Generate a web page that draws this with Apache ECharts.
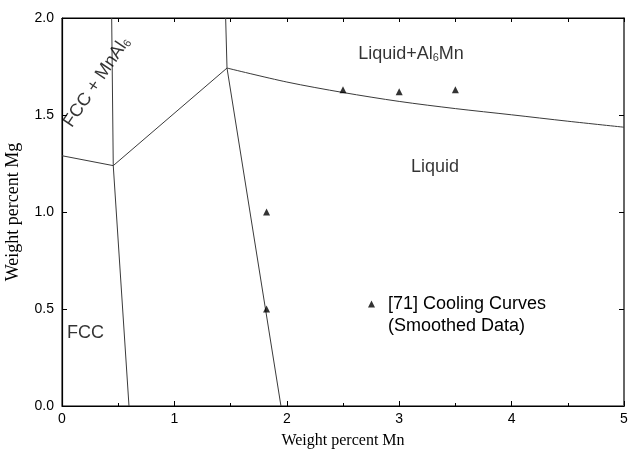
<!DOCTYPE html>
<html>
<head>
<meta charset="utf-8">
<script src="https://cdn.jsdelivr.net/npm/echarts@6/dist/echarts.min.js"></script>
<style>html,body{margin:0;padding:0;background:#fff;}#c{width:630px;height:449px;}</style>
</head>
<body>
<div id="c"></div>
<script>
// Axis ranges / ticks
const xTicks = [0, 1, 2, 3, 4, 5];
const yTicks = [0.0, 0.5, 1.0, 1.5, 2.0];

// Phase boundary lines (Mn wt%, Mg wt%)
const fccLiquidusLeft = [[0, 1.29], [0.456, 1.239]];
const fccMnAl6Boundary = [[0.456, 1.239], [0.442, 2.0]];
const fccLower = [[0.456, 1.239], [0.596, 0.0]];
const valleyToPeak = [[0.456, 1.239], [1.468, 1.742]];
const peakUp = [[1.468, 1.742], [1.456, 2.0]];
const peakDown = [[1.468, 1.742], [1.948, 0.0]];
const al6mnLiquidus = [[1.468, 1.742], [2.0, 1.670], [2.5, 1.616], [3.0, 1.570], [3.5, 1.533], [4.0, 1.501], [4.5, 1.468], [5.0, 1.437]];

// [71] cooling curves (smoothed data)
const coolingMn = [2.5, 3.0, 3.5, 1.82, 1.82];
const coolingMg = [1.63, 1.62, 1.63, 1.0, 0.5];

// Region labels (anchor in data coordinates)
const regionLabels = [
  { text: 'Liquid+Al{s|6}Mn', at: [3.105, 1.814], rotate: 0 },
  { text: 'Liquid', at: [3.318, 1.232], rotate: 0 },
  { text: 'FCC', at: [0.209, 0.376], rotate: 0 },
  { text: 'FCC + MnAl{s|6}', at: [0.31, 1.67], rotate: 56 }
];

const SANS = "'Liberation Sans', Arial, sans-serif";
const SERIF = "'Liberation Serif', 'Times New Roman', serif";

const lineStyle = { color: '#3a3a3a', width: 1 };
function boundary(data) {
  return { type: 'line', data: data, symbol: 'none', lineStyle: lineStyle, silent: true, animation: false, z: 2 };
}

const chart = echarts.init(document.getElementById('c'), null, { renderer: 'canvas' });
chart.setOption({
  backgroundColor: '#ffffff',
  animation: false,
  grid: { left: 62, right: 6, top: 18, bottom: 43, containLabel: false, outerBoundsMode: 'none',
          show: true, borderColor: '#000', borderWidth: 1, backgroundColor: 'transparent' },
  legend: {
    show: true,
    data: [{ name: '[71] Cooling Curves', icon: 'triangle' }],
    left: 368, top: 295, padding: 0,
    itemWidth: 7, itemHeight: 7, symbolKeepAspect: true,
    textStyle: { fontFamily: SANS, fontSize: 18, color: '#000', padding: [0, 0, 0, 8] },
    selectedMode: false
  },
  graphic: [{
    type: 'text', left: 388, top: 317,
    style: { text: '(Smoothed Data)', font: '18px ' + SANS, fill: '#000' }
  }],
  xAxis: [{
    type: 'value', min: xTicks[0], max: xTicks[xTicks.length - 1], interval: 1,
    position: 'bottom',
    name: 'Weight percent Mn', nameLocation: 'middle', nameGap: 27,
    nameTextStyle: { fontFamily: SERIF, fontSize: 16, color: '#000' },
    axisLine: { onZero: false, lineStyle: { color: '#000', width: 1.2 } },
    axisTick: { inside: true, length: 5, lineStyle: { color: '#000' } },
    minorTick: { show: true, splitNumber: 2, length: 3, lineStyle: { color: '#000' } },
    axisLabel: { fontFamily: SANS, fontSize: 14, color: '#000', margin: 6 },
    splitLine: { show: false }
  }, {
    type: 'value', min: 0, max: 5, interval: 0.5, position: 'top',
    axisLine: { show: true, onZero: false, lineStyle: { color: '#000', width: 1 } },
    axisTick: { show: true, inside: true, length: 4, lineStyle: { color: '#000' } },
    axisLabel: { show: false }, splitLine: { show: false }
  }],
  yAxis: [{
    type: 'value', min: yTicks[0], max: yTicks[yTicks.length - 1], interval: 0.5,
    position: 'left',
    name: 'Weight percent Mg', nameLocation: 'middle', nameGap: 40, nameRotate: 90,
    nameTextStyle: { fontFamily: SERIF, fontSize: 18, color: '#000' },
    axisLine: { onZero: false, lineStyle: { color: '#000', width: 1.2 } },
    axisTick: { inside: true, length: 5, lineStyle: { color: '#000' } },
    axisLabel: { fontFamily: SANS, fontSize: 14, color: '#000', margin: 8, formatter: v => v.toFixed(1) },
    splitLine: { show: false }
  }, {
    type: 'value', min: 0, max: 2, interval: 0.5, position: 'right',
    axisLine: { show: true, onZero: false, lineStyle: { color: '#666', width: 2 } },
    axisTick: { show: true, inside: true, length: 5, lineStyle: { color: '#000' } },
    axisLabel: { show: false }, splitLine: { show: false }
  }],
  series: [
    boundary(fccLiquidusLeft),
    boundary(fccMnAl6Boundary),
    boundary(fccLower),
    boundary(valleyToPeak),
    boundary(peakUp),
    boundary(peakDown),
    Object.assign(boundary(al6mnLiquidus), { smooth: 0.3 }),
    {
      name: '[71] Cooling Curves', type: 'scatter', symbol: 'triangle', symbolSize: 7,
      itemStyle: { color: '#000' },
      data: coolingMn.map((x, i) => [x, coolingMg[i]]), z: 5
    },
    {
      type: 'scatter', symbolSize: 0, silent: true, z: 6,
      itemStyle: { color: '#000' },
      data: regionLabels.map(l => ({
        value: l.at,
        label: {
          show: true, position: 'inside', rotate: l.rotate,
          formatter: l.text, align: 'center', verticalAlign: 'middle',
          fontFamily: SANS, fontSize: 18, color: '#000', textBorderWidth: 0,
          rich: { s: { fontFamily: SANS, fontSize: 11, color: '#000', textBorderWidth: 0, verticalAlign: 'bottom', padding: [8, 0, 0, 0] } }
        }
      }))
    }
  ]
});
</script>
</body>
</html>
